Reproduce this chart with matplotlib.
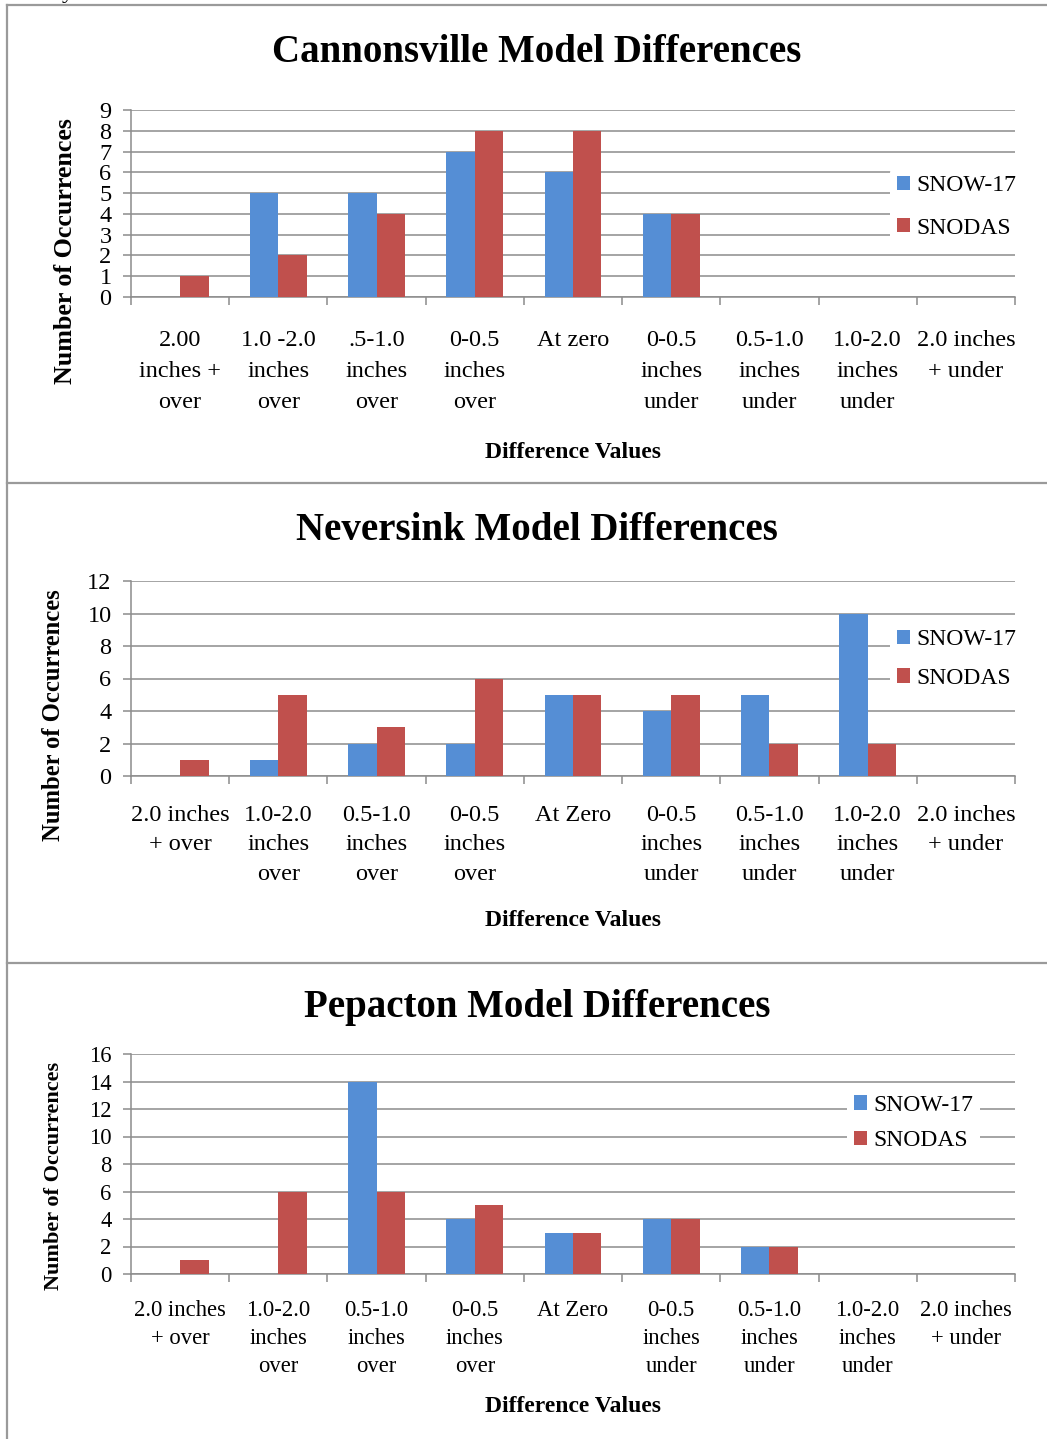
import numpy as np
import matplotlib
matplotlib.use("Agg")
import matplotlib.pyplot as plt
from matplotlib.lines import Line2D

# data
labels_cannon = ["2.00\ninches +\nover", "1.0 -2.0\ninches\nover", ".5-1.0\ninches\nover",
                 "0-0.5\ninches\nover", "At zero", "0-0.5\ninches\nunder",
                 "0.5-1.0\ninches\nunder", "1.0-2.0\ninches\nunder", "2.0 inches\n+ under"]
labels_other = ["2.0 inches\n+ over", "1.0-2.0\ninches\nover", "0.5-1.0\ninches\nover",
                "0-0.5\ninches\nover", "At Zero", "0-0.5\ninches\nunder",
                "0.5-1.0\ninches\nunder", "1.0-2.0\ninches\nunder", "2.0 inches\n+ under"]

cannon_snow17 = [0, 5, 5, 7, 6, 4, 0, 0, 0]
cannon_snodas = [1, 2, 4, 8, 8, 4, 0, 0, 0]
never_snow17 = [0, 1, 2, 2, 5, 4, 5, 10, 0]
never_snodas = [1, 5, 3, 6, 5, 5, 2, 2, 0]
pepac_snow17 = [0, 0, 14, 4, 3, 4, 2, 0, 0]
pepac_snodas = [1, 6, 6, 5, 3, 4, 2, 0, 0]

series_names = ["SNOW-17", "SNODAS"]

BLUE = "#558ED5"
RED = "#C0504D"
GRID = "#8c8c8c"
W, H = 1047, 1439

plt.rcParams['font.family'] = ['Liberation Serif', 'DejaVu Serif']

fig = plt.figure(figsize=(W / 100, H / 100), dpi=100)


def px_axes(x0, y0, x1, y1):
    return fig.add_axes([x0 / W, 1 - y1 / H, (x1 - x0) / W, (y1 - y0) / H])


def draw_panel(box, title, title_y, labels, s17, snd, ymax, ystep, ylab_xy, ylab_size,
               xlab_y, tick_size, linesp, leg_xy, leg_space, tick_pad):
    ax = px_axes(*box)
    x = np.arange(len(labels))
    w = 0.29
    ax.bar(x - w / 2, s17, w, color=BLUE, label=series_names[0], zorder=3)
    ax.bar(x + w / 2, snd, w, color=RED, label=series_names[1], zorder=3)
    ax.set_xlim(-0.5, len(labels) - 0.5)
    ax.set_ylim(0, ymax)
    ax.set_yticks(np.arange(0, ymax + 1, ystep))
    ax.yaxis.grid(True, color=GRID, lw=1.1, zorder=0)
    ax.set_axisbelow(True)
    for s in ["top", "right"]:
        ax.spines[s].set_visible(False)
    for s in ["left", "bottom"]:
        ax.spines[s].set_color(GRID)
        ax.spines[s].set_linewidth(1.1)
    ax.set_xticks(x)
    ax.set_xticklabels(labels, fontsize=tick_size, linespacing=linesp, va="top")
    ax.set_xticks(np.arange(-0.5, len(labels)), minor=True)
    ax.tick_params(axis="x", which="major", length=0, pad=tick_pad)
    ax.tick_params(axis="x", which="minor", length=6, color=GRID, width=1.1)
    ax.tick_params(axis="y", length=6, color=GRID, width=1.1, labelsize=tick_size, pad=8)

    fig.text(537 / W, 1 - title_y / H, title, ha="center", va="center",
             fontsize=28, fontweight="bold")
    fig.text(573 / W, 1 - xlab_y / H, "Difference Values", ha="center", va="center",
             fontsize=17, fontweight="bold")
    fig.text(ylab_xy[0] / W, 1 - ylab_xy[1] / H, "Number of Occurrences",
             ha="center", va="center", rotation=90, fontsize=ylab_size, fontweight="bold")

    leg = ax.legend(loc="center left", bbox_to_anchor=(leg_xy[0] / W, 1 - leg_xy[1] / H),
                    bbox_transform=fig.transFigure, fontsize=17, frameon=True,
                    handlelength=0.55, handleheight=0.55, handletextpad=0.25,
                    labelspacing=leg_space, borderpad=0.3, borderaxespad=0)
    leg.get_frame().set_edgecolor("none")
    leg.get_frame().set_facecolor("white")
    leg.get_frame().set_alpha(1)
    leg.set_zorder(5)
    return ax


draw_panel((131, 110, 1015, 297), "Cannonsville Model Differences", 52, labels_cannon,
           cannon_snow17, cannon_snodas, 9, 1, (66, 251), 18.7, 452, 17.5, 1.63,
           (890, 207), 0.9, 24)
draw_panel((131, 581, 1015, 776), "Neversink Model Differences", 531, labels_other,
           never_snow17, never_snodas, 12, 2, (54, 715), 17.7, 921, 17.5, 1.52,
           (890, 659), 0.75, 21)
draw_panel((131, 1054, 1015, 1274), "Pepacton Model Differences", 1008, labels_other,
           pepac_snow17, pepac_snodas, 16, 2, (54, 1176), 16, 1406, 16.3, 1.42,
           (847, 1123), 0.6, 19)

# page borders and separators
gray = "#9a9a9a"
for y in (5, 483, 963):
    fig.add_artist(Line2D([7 / W, 1], [1 - y / H, 1 - y / H], color=gray, lw=1.6,
                          transform=fig.transFigure))
fig.add_artist(Line2D([7 / W, 7 / W], [1 - 5 / H, 0], color=gray, lw=1.6,
                      transform=fig.transFigure))
# descender of cut-off text above the page
fig.text(62 / W, 1 + 2 / H, "y", fontsize=17, va="baseline")

fig.savefig("out.png", dpi=100)
